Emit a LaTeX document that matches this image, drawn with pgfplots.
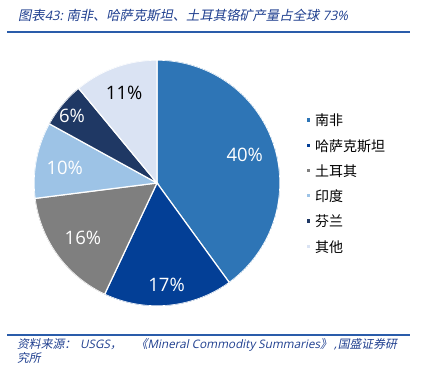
\documentclass[border=0pt]{standalone}
\usepackage{pgfplots}
\pgfplotsset{compat=1.18}
\usepgfplotslibrary{polar}
\usepackage{fontspec}
\setmainfont{Open Sans}
\newfontfamily\cjk{Noto Sans CJK SC}
\newfontfamily\cjkit{Noto Sans CJK SC}[FakeSlant=0.2]
\newfontfamily\latit{Open Sans}[FakeSlant=0.2]
\definecolor{cA}{HTML}{2E75B6}
\definecolor{cB}{HTML}{033F96}
\definecolor{cC}{HTML}{7F7F7F}
\definecolor{cD}{HTML}{9DC3E6}
\definecolor{cE}{HTML}{1F3864}
\definecolor{cF}{HTML}{DAE3F3}
\definecolor{titleblue}{HTML}{1F3F8F}
\definecolor{lineblue}{HTML}{2A5CAA}
% shares (%): South Africa 40, Kazakhstan 17, Turkey 16, India 10, Finland 6, Others 11
\pgfmathsetmacro{\sA}{90}
\pgfmathsetmacro{\sB}{\sA-3.6*40}
\pgfmathsetmacro{\sC}{\sB-3.6*17}
\pgfmathsetmacro{\sD}{\sC-3.6*16}
\pgfmathsetmacro{\sE}{\sD-3.6*10}
\pgfmathsetmacro{\sF}{\sE-3.6*6}
\pgfmathsetmacro{\sG}{\sF-3.6*11}
\newcommand{\ci}{\cjkit\fontsize{11.8}{11.8}\selectfont}
\newcommand{\li}{\latit\fontsize{11.7}{11.7}\selectfont}
\begin{document}
\begin{tikzpicture}
\begin{polaraxis}[
  at={(157pt,185pt)}, anchor=center,
  width=246pt, height=246pt, scale only axis,
  hide axis, xmin=0, xmax=360, ymin=0, ymax=1,
  legend image code/.code={\fill[#1] (0pt,-2.3pt) rectangle (4.6pt,2.3pt);},
  legend style={at={(axis description cs:1.104,0.785)}, anchor=north west,
    draw=none, fill=none, inner sep=0pt, row sep=11.5pt, column sep=2.5pt,
    font=\cjk\fontsize{14}{14}\selectfont,
    nodes={inner sep=1pt, text depth=0pt}},
  legend cell align=left,
]
\addplot[fill=cA, draw=white, line width=1.2pt, domain=\sB:\sA, samples=80] {1} -- (axis cs:0,0) -- cycle;
\addlegendentry{南非}
\addplot[fill=cB, draw=white, line width=1.2pt, domain=\sC:\sB, samples=40] {1} -- (axis cs:0,0) -- cycle;
\addlegendentry{哈萨克斯坦}
\addplot[fill=cC, draw=white, line width=1.2pt, domain=\sD:\sC, samples=40] {1} -- (axis cs:0,0) -- cycle;
\addlegendentry{土耳其}
\addplot[fill=cD, draw=white, line width=1.2pt, domain=\sE:\sD, samples=30] {1} -- (axis cs:0,0) -- cycle;
\addlegendentry{印度}
\addplot[fill=cE, draw=white, line width=1.2pt, domain=\sF:\sE, samples=20] {1} -- (axis cs:0,0) -- cycle;
\addlegendentry{芬兰}
\addplot[fill=cF, draw=white, line width=1.2pt, domain=\sG:\sF, samples=30] {1} -- (axis cs:0,0) -- cycle;
\addlegendentry{其他}
\begin{scope}[font=\fontsize{18.5}{18.5}\selectfont]
\node[white] at (axis cs:18,0.75) {40\%};
\node[white] at (axis cs:-84.6,0.83) {17\%};
\node[white] at (axis cs:-143.4,0.75) {16\%};
\node[white] at (axis cs:170.8,0.76) {10\%};
\node[white] at (axis cs:141.8,0.88) {6\%};
\node[black] at (axis cs:110,0.78) {11\%};
\end{scope}
\end{polaraxis}
\node[anchor=base west, inner sep=0pt, text=titleblue] at (18pt,348pt)
  {{\cjkit\fontsize{13.3}{13.3}\selectfont 图表}{\latit\fontsize{13}{13}\selectfont 43:~}{\cjkit\fontsize{13.3}{13.3}\selectfont 南非、哈萨克斯坦、土耳其铬矿产量占全球}{\latit\fontsize{13}{13}\selectfont~73\%}};
\draw[lineblue, line width=1.3pt] (7pt,336pt) -- (410pt,336pt);
\draw[lineblue, line width=1.3pt] (7pt,33pt) -- (410pt,33pt);
\node[anchor=base west, inner sep=0pt, text=titleblue] at (17pt,20pt)
  {{\ci 资料来源：}\hspace{4pt}{\li USGS}{\ci ，}\hspace{14pt}{\ci 《}{\li Mineral Commodity Summaries}{\ci 》}\hspace{2pt}{\li ,}\hspace{1pt}{\ci 国盛证券研}};
\node[anchor=base west, inner sep=0pt, text=titleblue] at (17pt,6pt)
  {\ci 究所};
\pgfresetboundingbox
\path[use as bounding box] (0,0) rectangle (424pt,368pt);
\end{tikzpicture}
\end{document}
